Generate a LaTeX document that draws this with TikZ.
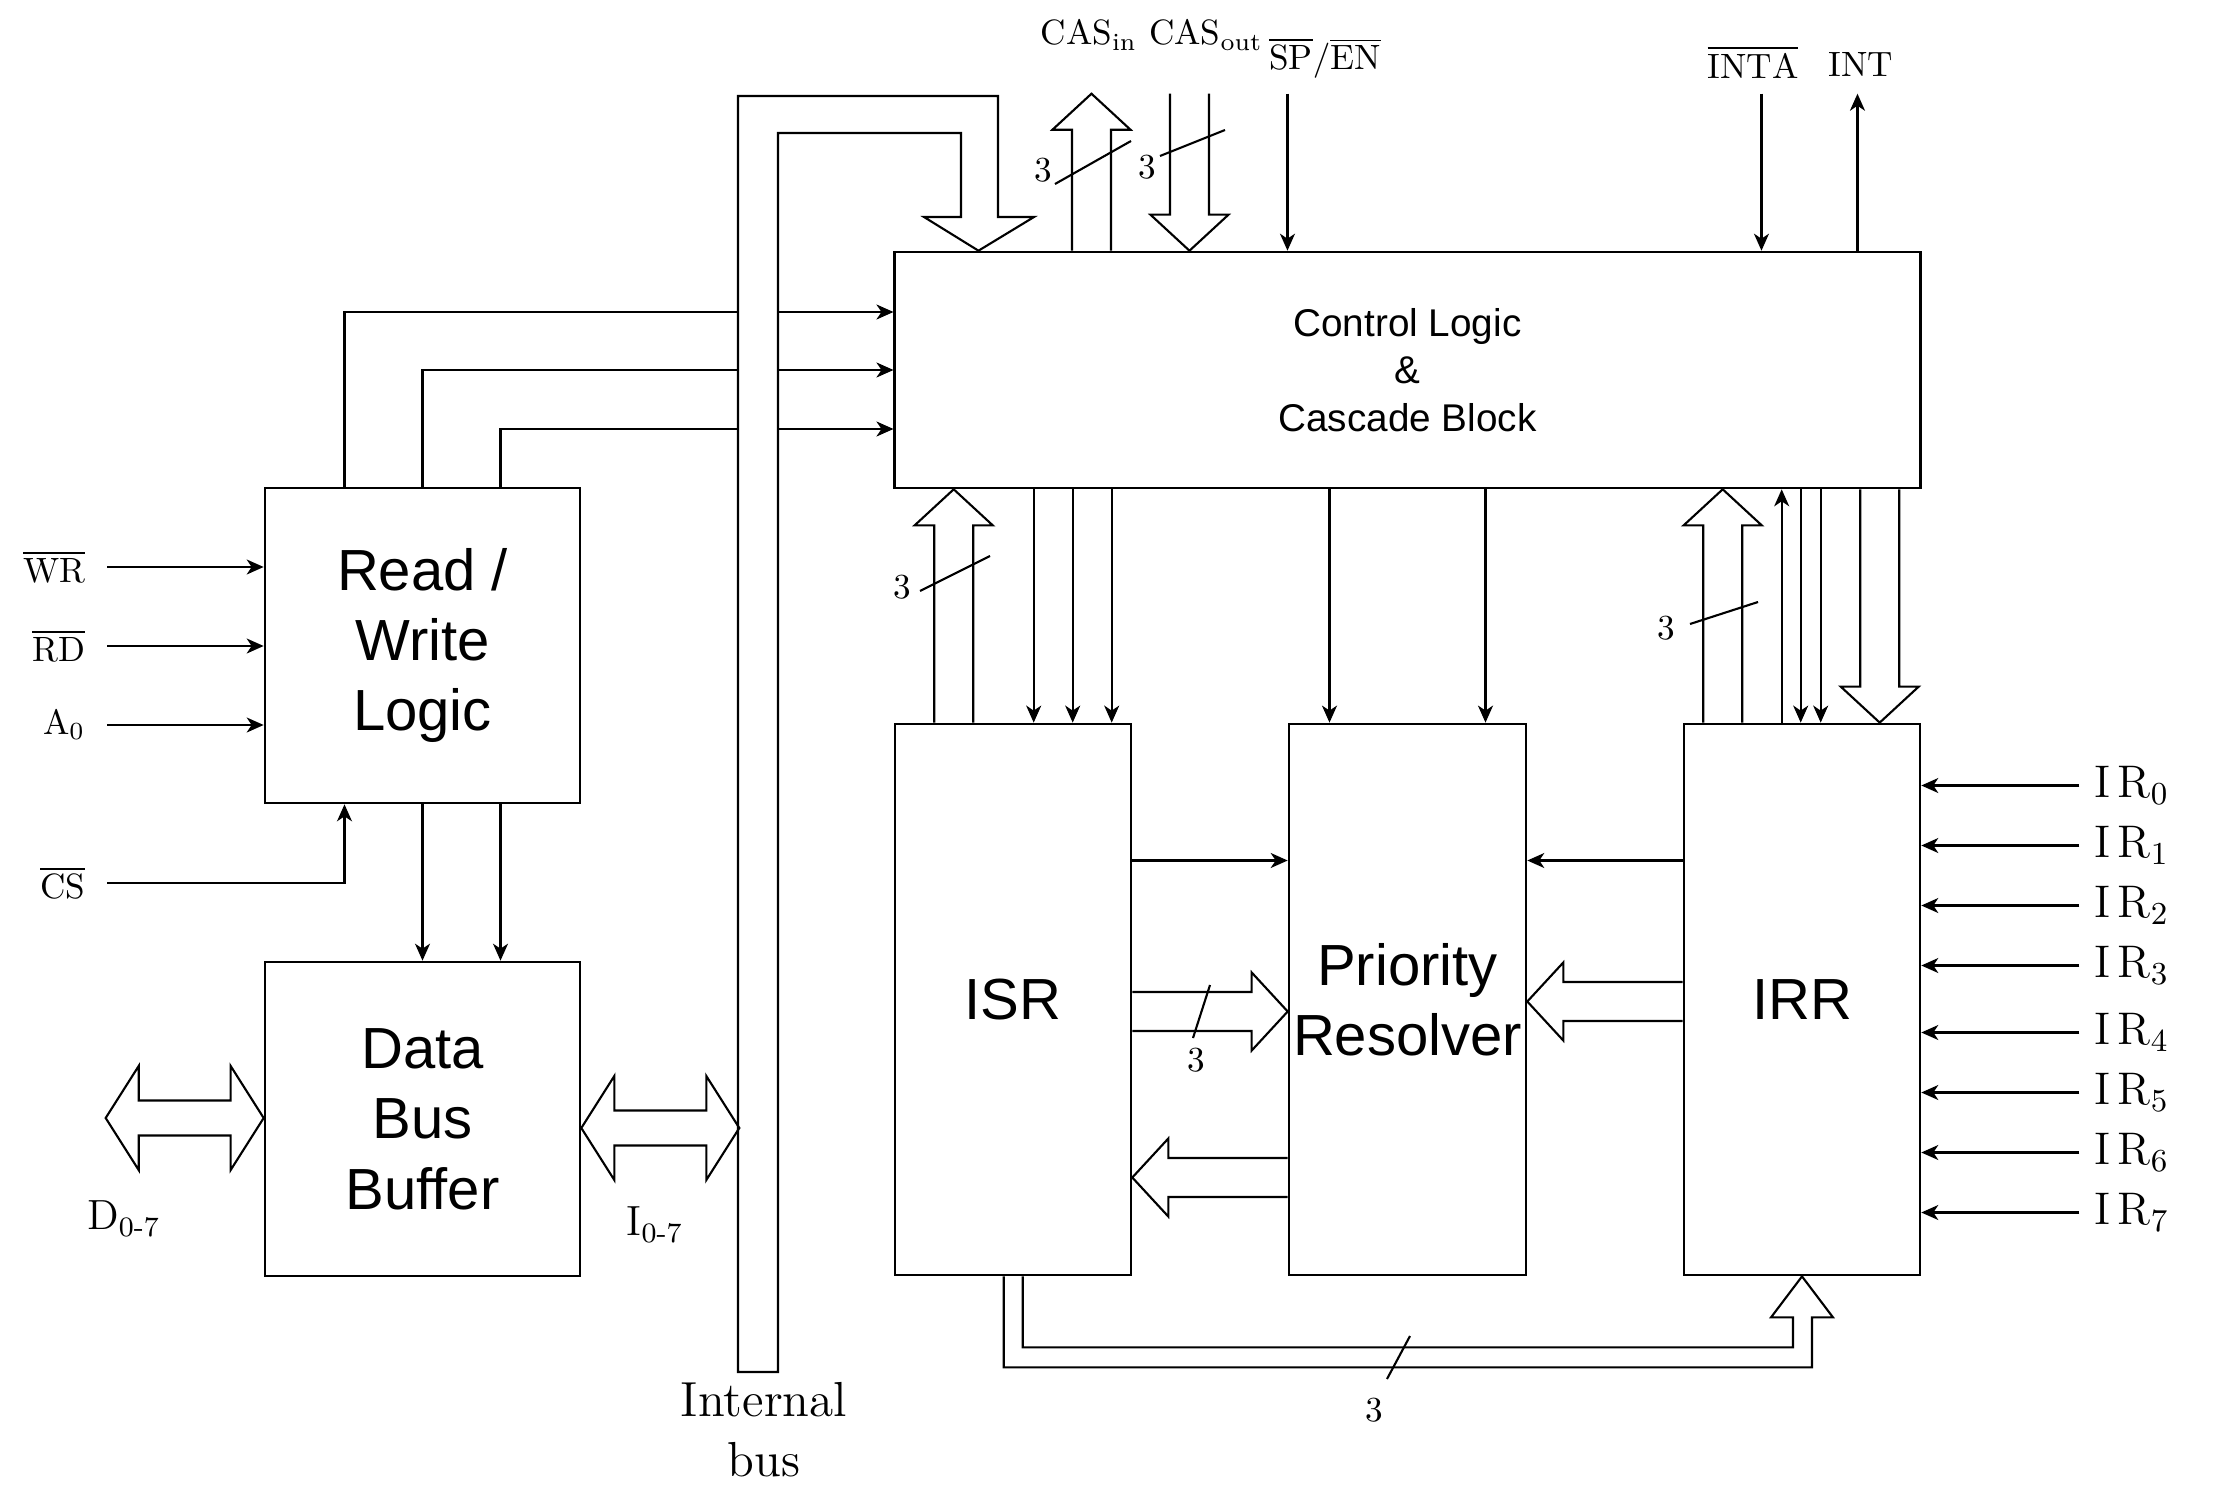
\documentclass[tikz,border=0pt]{standalone}
\usepackage{fontspec}
\newfontfamily\blockfont{Liberation Sans}
\usetikzlibrary{arrows.meta,calc}
\tikzset{
  unit box/.style={
    draw=black,
    line width=0.7pt,
    inner sep=0pt,
    align=center,
    font=\blockfont\fontsize{16.5}{20}\selectfont,
  },
  sig arrow/.style={
    -{Stealth[length=1.7mm,width=1.5mm,inset=0.5mm]},
    line width=0.6pt,
  },
  bus line/.style={
    draw=black,
    line width=0.6pt,
    line join=miter,
  },
  hand label/.style={
    font=\fontsize{10}{12}\selectfont,
    inner sep=1pt,
  },
  pin label/.style={hand label, inner xsep=6pt},
  ir label/.style={hand label, font=\fontsize{13}{15}\selectfont, inner xsep=4pt},
  width tick/.style={line width=0.6pt},
}
\newcommand{\busarrow}[2]{%
  \coordinate (ba) at (#1);
  \coordinate (bb) at (#2);
  \coordinate (bh) at ($(bb)!0.36cm!(ba)$);
  \draw[bus line] ($(ba)!0.195cm!90:(bb)$) -- ($(bh)!0.195cm!90:(bb)$)
    -- ($(bh)!0.39cm!90:(bb)$) -- (bb) -- ($(bh)!0.39cm!-90:(bb)$)
    -- ($(bh)!0.195cm!-90:(bb)$) -- ($(ba)!0.195cm!-90:(bb)$);
}
\newcommand{\busboth}[2]{%
  \coordinate (ba) at (#1);
  \coordinate (bb) at (#2);
  \coordinate (bh) at ($(bb)!0.33cm!(ba)$);
  \coordinate (bt) at ($(ba)!0.33cm!(bb)$);
  \draw[bus line] (ba) -- ($(bt)!0.52cm!90:(bb)$) -- ($(bt)!0.175cm!90:(bb)$)
    -- ($(bh)!0.175cm!90:(bb)$) -- ($(bh)!0.52cm!90:(bb)$) -- (bb)
    -- ($(bh)!0.52cm!-90:(bb)$) -- ($(bh)!0.175cm!-90:(bb)$)
    -- ($(bt)!0.175cm!-90:(bb)$) -- ($(bt)!0.52cm!-90:(bb)$) -- cycle;
}

\begin{document}
\begin{tikzpicture}[x=0.01cm,y=-0.01cm]
  \useasboundingbox (0,0) rectangle (2217,1512);

  \node[unit box, minimum width=3.15cm, minimum height=3.15cm] (rw) at (422.5,645.5)
    {Read /\\Write\\ Logic};
  \node[unit box, minimum width=3.15cm, minimum height=3.14cm] (dbb) at (422.5,1119)
    {Data\\Bus\\Buffer};
  \node[unit box, font=\blockfont\fontsize{11}{13.5}\selectfont,
    minimum width=10.25cm, minimum height=2.36cm] (cl) at (1407.5,370)
    {Control Logic\\\&\\Cascade Block};
  \node[unit box, minimum width=2.36cm, minimum height=5.51cm] (isr) at (1013,999.5) {ISR};
  \node[unit box, minimum width=2.37cm, minimum height=5.51cm] (pr) at (1407.5,999.5)
    {Priority\\Resolver};
  \node[unit box, minimum width=2.36cm, minimum height=5.51cm] (irr) at (1802,999.5) {IRR};

  \foreach \dx/\dy in {-78/-58,0/0,78/59}
    \draw[sig arrow] ($(rw.north)+(\dx,0)$) |- ($(cl.west)+(0,\dy)$);
  \foreach \dx in {0,78}
    \draw[sig arrow] ($(rw.south)+(\dx,0)$) -- ($(dbb.north)+(\dx,0)$);

  \draw[bus line, fill=white] (738,1372) -- (738,96) -- (998,96) -- (998,217) -- (1034,217)
    -- ($(cl.north west)+(85,0)$) -- (924,217) -- (961,217) -- (961,133) -- (778,133)
    -- (778,1372) -- cycle;
  \node[hand label, font=\fontsize{14}{17}\selectfont, align=center] (buslbl) at (764,1430)
    {Internal\\bus};

  \node[pin label, anchor=east] (wr) at (107,567) {$\overline{\mathrm{WR}}$};
  \node[pin label, anchor=east] (rd) at (107,646) {$\overline{\mathrm{RD}}$};
  \node[pin label, anchor=east] (a0) at (107,725) {A\textsubscript{0}};
  \node[pin label, anchor=east] (cs) at (107,883) {$\overline{\mathrm{CS}}$};
  \foreach \p in {wr,rd,a0}
    \draw[sig arrow] (\p.east) -- (\p.east -| rw.west);
  \draw[sig arrow] (cs.east) -| ($(rw.south)+(-78,0)$);

  \busboth{$(dbb.west)+(-158,-1)$}{$(dbb.west)+(0,-1)$}
  \node[hand label, font=\fontsize{12}{14}\selectfont] (dlbl) at (124,1219) {D\textsubscript{0-7}};
  \busboth{$(dbb.east)+(0,9)$}{$(dbb.east)+(158,9)$}
  \node[hand label, font=\fontsize{12}{14}\selectfont] (ilbl) at (655,1225) {I\textsubscript{0-7}};

  \coordinate (casin) at ($(cl.north west)+(198,-157)$);
  \coordinate (casout) at ($(cl.north west)+(296,-157)$);
  \coordinate (spen) at ($(cl.north west)+(394,-157)$);
  \coordinate (inta) at ($(cl.north west)+(868,-157)$);
  \coordinate (int) at ($(cl.north west)+(964,-157)$);
  \busarrow{casin |- cl.north}{casin}
  \busarrow{casout}{casout |- cl.north}
  \draw[sig arrow] (spen) -- (spen |- cl.north);
  \draw[sig arrow] (inta) -- (inta |- cl.north);
  \draw[sig arrow] (int |- cl.north) -- (int);
  \node[hand label] (casinlbl) at (1089,35) {CAS$_{\mathrm{in}}$};
  \node[hand label] (casoutlbl) at (1206,35) {CAS$_{\mathrm{out}}$};
  \node[hand label] (spenlbl) at (1325,58) {$\overline{\mathrm{SP}}/\overline{\mathrm{EN}}$};
  \node[hand label] (intalbl) at (1753,62) {$\overline{\mathrm{INTA}}$};
  \node[hand label] (intlbl) at (1861,64) {INT};

  \coordinate (isrbus) at ($(isr.north west)+(60,0)$);
  \foreach \i/\dx in {1/140,2/179,3/218}
    \coordinate (isrin\i) at ($(isr.north west)+(\dx,0)$);
  \coordinate (prin1) at ($(pr.north)+(-78,0)$);
  \coordinate (prin2) at ($(pr.north)+(78,0)$);
  \coordinate (irrbus) at ($(irr.north west)+(40,0)$);
  \coordinate (irrout) at ($(irr.north west)+(99,0)$);
  \coordinate (irrin1) at ($(irr.north west)+(118,0)$);
  \coordinate (irrin2) at ($(irr.north west)+(138,0)$);
  \coordinate (irrdown) at ($(irr.north west)+(197,0)$);

  \busarrow{isrbus}{isrbus |- cl.south}
  \foreach \i in {1,2,3}
    \draw[sig arrow] (isrin\i |- cl.south) -- (isrin\i);
  \foreach \i in {1,2}
    \draw[sig arrow] (prin\i |- cl.south) -- (prin\i);
  \busarrow{irrbus}{irrbus |- cl.south}
  \draw[sig arrow] (irrout) -- (irrout |- cl.south);
  \foreach \i in {1,2}
    \draw[sig arrow] (irrin\i |- cl.south) -- (irrin\i);
  \busarrow{irrdown |- cl.south}{irrdown}

  \draw[sig arrow] ($(isr.east)+(0,-139)$) -- ($(pr.west)+(0,-139)$);
  \draw[sig arrow] ($(irr.west)+(0,-139)$) -- ($(pr.east)+(0,-139)$);
  \busarrow{$(isr.east)+(0,12)$}{$(pr.west)+(0,12)$}
  \busarrow{$(pr.west)+(0,178)$}{$(isr.east)+(0,178)$}
  \busarrow{$(irr.west)+(0,2)$}{$(pr.east)+(0,2)$}

  \draw[bus line] ($(isr.south west)+(110,0)$) |- ($(irr.south)+(10,91)$)
    -- ($(irr.south)+(10,41)$) -- ($(irr.south)+(31,41)$) -- (irr.south)
    -- ($(irr.south)+(-31,41)$) -- ($(irr.south)+(-9,41)$)
    |- ($(isr.south west)+(129,71)$) -- ($(isr.south west)+(129,0)$);

  \foreach \n/\dy in {0/-214,1/-154,2/-94,3/-34,4/33,5/93,6/153,7/213} {
    \node[ir label, anchor=west] (ir\n) at ($(irr.east)+(158,\dy)$) {I\,R\textsubscript{\n}};
    \draw[sig arrow] (ir\n.west) -- (ir\n.west -| irr.east);
  }

  \foreach \ax/\ay/\bx/\by/\lx/\ly [count=\k] in
    {1055/184/1131/141/1043/170, 1160/156/1225/130/1147/167,
     920/591/990/556/902/587, 1690/624/1758/602/1666/628,
     1210/985/1193/1038/1196/1060, 1410/1336/1387/1379/1374/1410} {
    \draw[width tick] (\ax,\ay) -- (\bx,\by);
    \node[hand label] (w\k) at (\lx,\ly) {3};
  }
\end{tikzpicture}
\end{document}
